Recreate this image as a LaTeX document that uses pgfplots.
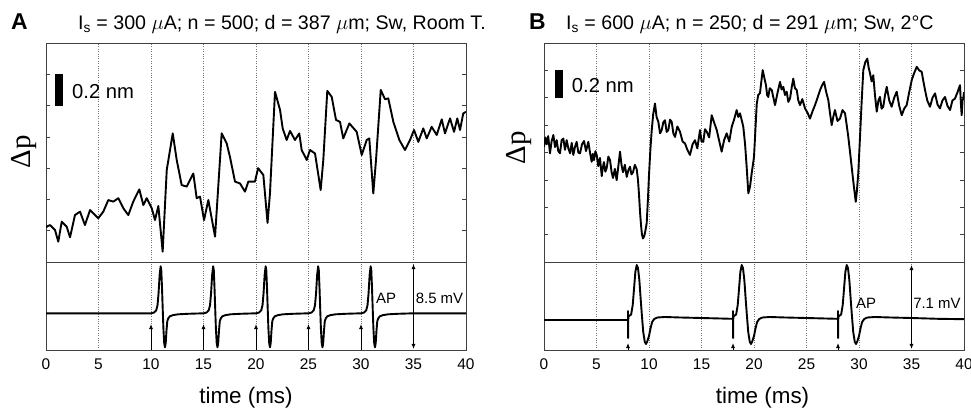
\documentclass[border=0pt]{standalone}
\usepackage{fontspec}
\setmainfont{Liberation Sans}
\newfontfamily\timesfont{Liberation Serif}
\usepackage{pgfplots}
\pgfplotsset{compat=1.18}
\usetikzlibrary{arrows.meta}

% one unit of the top axes = one y tick step = 0.2 nm
% bottom axes: AP trace, baseline at 0 (mV-ish units)
\pgfplotsset{
  panel/.style={
    scale only axis, width=420bp, xmin=0, xmax=40,
    axis line style={black!75, line width=0.8bp},
    xmajorgrids, grid style={dotted, black!55, line width=0.7bp},
    xtick style={draw=none},
    ytick style={black!75, line width=0.6bp},
    major tick length=4bp,
    /pgf/number format/assume math mode=true,
  },
  top/.style={panel, height=219bp, xtick={5,10,...,35}, xticklabels={}, yticklabels={}},
  bot/.style={panel, height=88bp, xtick={0,5,...,40}, ytick=\empty,
    xticklabel style={font=\fontsize{15.5}{15}\selectfont, yshift=-5bp}},
  trace/.style={black, line width=1.9bp, line join=round},
}
\tikzset{
  stim/.style={black, line width=0.9bp, -{Latex[length=5bp,width=4bp]}},
  amp/.style={black, line width=0.9bp, {Latex[length=5bp,width=4bp]}-{Latex[length=5bp,width=4bp]}},
}

\begin{document}
\begin{tikzpicture}
\useasboundingbox (0,0) rectangle (971bp,409bp);

% ---------------- panel A ----------------
\begin{axis}[top, at={(46bp,147bp)}, anchor=south west, ymin=0, ymax=7, ytick={1,...,6}]
\addplot[trace] coordinates {
(0.00,1.10) (0.07,1.13) (0.38,1.18) (0.86,1.02) (1.17,0.65) (1.50,1.29) (1.97,1.13)
(2.29,0.79) (2.76,1.50) (3.24,1.61) (3.71,1.18) (4.19,1.66) (4.67,1.50) (4.98,1.40)
(5.46,1.61) (5.93,1.98) (6.41,1.93) (6.89,2.04) (7.36,1.72) (7.84,1.50) (8.31,1.93)
(8.89,2.32) (9.27,1.82) (9.59,2.04) (10.07,1.72) (10.38,1.34) (10.70,1.79) (11.11,0.33)
(11.50,2.94) (12.07,4.11) (12.45,3.26) (12.92,2.46) (13.40,2.41) (14.03,2.83) (14.35,2.04)
(14.67,2.09) (15.05,1.34) (15.46,1.98) (16.10,0.81) (16.73,4.11) (17.21,3.79) (17.52,3.36)
(18.00,2.57) (18.48,2.51) (18.95,2.25) (19.27,2.57) (19.90,2.57) (20.20,3.00) (20.70,2.78)
(21.10,1.25) (21.33,2.19) (21.81,5.44) (22.29,4.86) (22.54,4.27) (22.92,3.90) (23.24,4.19)
(23.71,3.90) (24.12,4.11) (24.35,3.58) (24.83,3.26) (25.14,3.58) (25.62,3.47) (26.16,2.30)
(26.41,3.26) (26.79,5.47) (27.21,5.28) (27.62,4.54) (28.00,4.48) (28.31,3.95) (28.89,4.43)
(29.59,4.16) (30.07,3.42) (30.54,3.90) (30.79,3.95) (31.17,2.19) (31.43,3.26) (31.88,5.50)
(32.29,5.20) (32.60,5.23) (33.08,4.48) (33.65,3.90) (34.19,3.58) (34.67,3.90) (35.05,4.22)
(35.46,3.84) (35.93,4.27) (36.26,3.95) (36.73,4.32) (37.21,4.06) (37.69,4.56) (38.00,4.11)
(38.48,4.59) (38.86,4.16) (39.17,4.59) (39.43,4.22) (39.74,4.75) (40.00,4.80)
};
\fill[black] (axis cs:0.86,5) rectangle (axis cs:1.65,6);
\end{axis}

\begin{axis}[bot, at={(46bp,59bp)}, anchor=south west, ymin=-3.67, ymax=5.13]
\addplot[trace] coordinates {
(0,0) (10,0)
(10.3,0.08) (10.5,0.3) (10.62,0.8) (10.72,2.0) (10.82,3.8) (10.92,4.7) (10.98,4.3) (11.05,2.5)
(11.12,0.3) (11.18,-1.5) (11.26,-3.0) (11.33,-3.4) (11.40,-3.0) (11.47,-1.8) (11.55,-0.8)
(11.65,-0.5) (11.8,-0.3) (12.1,-0.18) (12.6,-0.1) (13.5,-0.05) (15,0)
(15.3,0.08) (15.5,0.3) (15.62,0.8) (15.72,2.0) (15.82,3.8) (15.92,4.7) (15.98,4.3) (16.05,2.5)
(16.12,0.3) (16.18,-1.5) (16.26,-3.0) (16.33,-3.4) (16.40,-3.0) (16.47,-1.8) (16.55,-0.8)
(16.65,-0.5) (16.8,-0.3) (17.1,-0.18) (17.6,-0.1) (18.5,-0.05) (20,0)
(20.3,0.08) (20.5,0.3) (20.62,0.8) (20.72,2.0) (20.82,3.8) (20.92,4.7) (20.98,4.3) (21.05,2.5)
(21.12,0.3) (21.18,-1.5) (21.26,-3.0) (21.33,-3.4) (21.40,-3.0) (21.47,-1.8) (21.55,-0.8)
(21.65,-0.5) (21.8,-0.3) (22.1,-0.18) (22.6,-0.1) (23.5,-0.05) (25,0)
(25.3,0.08) (25.5,0.3) (25.62,0.8) (25.72,2.0) (25.82,3.8) (25.92,4.7) (25.98,4.3) (26.05,2.5)
(26.12,0.3) (26.18,-1.5) (26.26,-3.0) (26.33,-3.4) (26.40,-3.0) (26.47,-1.8) (26.55,-0.8)
(26.65,-0.5) (26.8,-0.3) (27.1,-0.18) (27.6,-0.1) (28.5,-0.05) (30,0)
(30.3,0.08) (30.5,0.3) (30.62,0.8) (30.72,2.0) (30.82,3.8) (30.92,4.7) (30.98,4.3) (31.05,2.5)
(31.12,0.3) (31.18,-1.5) (31.26,-3.0) (31.33,-3.4) (31.40,-3.0) (31.47,-1.8) (31.55,-0.8)
(31.65,-0.5) (31.8,-0.3) (32.1,-0.18) (32.6,-0.1) (33.5,-0.05) (35,0) (40,0)
};
\draw[stim] (axis cs:10,-3.67) -- (axis cs:10,-1.07);
\draw[stim] (axis cs:15,-3.67) -- (axis cs:15,-1.07);
\draw[stim] (axis cs:20,-3.67) -- (axis cs:20,-1.07);
\draw[stim] (axis cs:25,-3.67) -- (axis cs:25,-1.07);
\draw[stim] (axis cs:30,-3.67) -- (axis cs:30,-1.07);
\draw[amp] (axis cs:35,-3.57) -- (axis cs:35,4.93);
\node[anchor=west, inner sep=0, font=\fontsize{15}{15}\selectfont] at (axis cs:31.43,1.53) {AP};
\node[anchor=west, inner sep=0, font=\fontsize{15}{15}\selectfont] at (axis cs:35.2,1.53) {8.5 mV};
\end{axis}

% ---------------- panel B ----------------
\begin{axis}[top, at={(544bp,147bp)}, anchor=south west, ymin=0, ymax=8, ytick={1,...,7}]
\addplot[trace] coordinates {
(0.00,4.21) (0.13,4.55) (0.26,4.30) (0.40,4.60) (0.57,3.97) (0.72,4.40) (0.89,4.64)
(1.05,4.20) (1.21,4.45) (1.36,4.05) (1.52,3.97) (1.68,4.45) (1.84,4.51) (2.00,4.10)
(2.16,4.45) (2.32,4.15) (2.48,3.97) (2.64,4.35) (2.79,3.91) (2.95,4.20) (3.11,4.39)
(3.27,4.00) (3.43,3.97) (3.62,4.30) (3.81,4.42) (4.00,4.05) (4.22,4.39) (4.38,4.00)
(4.54,3.66) (4.65,3.95) (4.76,3.72) (4.90,4.05) (5.02,3.91) (5.17,3.50) (5.33,3.80)
(5.50,3.14) (5.60,3.45) (5.71,3.65) (5.84,3.30) (5.97,3.43) (6.13,3.85) (6.29,3.72)
(6.43,3.30) (6.57,3.07) (6.75,3.40) (6.92,2.99) (7.08,3.50) (7.24,4.03) (7.38,3.55)
(7.52,3.28) (7.70,3.55) (7.88,3.11) (8.03,3.35) (8.19,3.48) (8.33,3.20) (8.48,3.28)
(8.65,3.55) (8.83,3.39) (8.95,3.00) (9.05,2.45) (9.15,1.80) (9.24,1.35) (9.33,1.00)
(9.43,0.86) (9.55,0.95) (9.66,1.15) (9.78,1.42) (9.90,2.30) (10.00,3.18) (10.13,4.10)
(10.26,4.82) (10.40,5.40) (10.57,5.79) (10.72,5.30) (10.89,5.12) (11.05,4.70) (11.21,4.82)
(11.36,5.10) (11.52,5.18) (11.68,4.75) (11.84,4.82) (12.00,5.20) (12.16,5.12) (12.32,4.70)
(12.48,4.57) (12.70,4.95) (12.95,4.76) (13.20,4.40) (13.43,4.33) (13.65,4.10) (13.90,3.91)
(14.15,4.30) (14.38,4.45) (14.60,4.15) (14.86,4.82) (15.00,4.40) (15.17,4.39) (15.33,4.85)
(15.50,4.76) (15.73,4.55) (15.97,5.36) (16.20,5.10) (16.45,4.82) (16.70,4.40) (16.92,4.03)
(17.15,4.45) (17.40,4.70) (17.64,4.40) (17.88,4.94) (18.10,5.20) (18.35,5.55) (18.50,5.30)
(18.67,5.43) (18.82,5.20) (18.98,4.94) (19.15,4.30) (19.30,3.48) (19.46,2.51) (19.62,2.75)
(19.78,3.24) (20.00,3.84) (20.13,4.80) (20.26,5.77) (20.40,6.10) (20.57,6.17) (20.70,6.60)
(20.83,7.01) (21.00,6.70) (21.14,6.46) (21.25,6.10) (21.36,6.03) (21.50,6.35) (21.69,6.28)
(21.85,6.00) (22.00,5.73) (22.25,6.20) (22.48,6.58) (22.63,6.30) (22.79,6.40) (22.95,6.10)
(23.11,6.22) (23.27,5.85) (23.43,5.97) (23.60,6.40) (23.74,6.70) (23.90,6.35) (24.07,6.28)
(24.22,5.90) (24.38,5.73) (24.60,5.95) (24.86,5.61) (25.10,5.45) (25.33,5.24) (25.57,5.50)
(25.81,5.73) (26.05,6.00) (26.29,6.28) (26.48,6.45) (26.67,6.58) (26.88,6.20) (27.08,5.91)
(27.25,5.40) (27.40,5.00) (27.55,5.30) (27.71,5.55) (27.95,5.15) (28.19,5.24) (28.43,5.55)
(28.67,5.43) (28.83,5.00) (28.98,4.57) (29.15,4.00) (29.30,3.48) (29.50,2.80) (29.69,2.20)
(29.80,2.60) (29.93,3.24) (30.10,4.60) (30.26,5.91) (30.41,7.01) (30.60,7.30) (30.79,7.43)
(30.92,7.10) (31.05,6.89) (31.20,6.60) (31.36,6.82) (31.52,6.10) (31.69,5.49) (31.85,5.90)
(32.00,6.03) (32.15,5.60) (32.31,5.67) (32.48,6.10) (32.64,6.40) (32.88,5.90) (33.11,5.67)
(33.35,6.00) (33.59,6.22) (33.83,5.70) (34.07,5.36) (34.30,5.60) (34.54,5.73) (34.78,6.20)
(35.02,6.64) (35.25,6.90) (35.50,7.13) (35.73,7.00) (35.97,6.95) (36.13,6.60) (36.29,6.28)
(36.50,5.90) (36.76,5.67) (37.00,6.00) (37.24,6.16) (37.48,5.75) (37.71,5.61) (37.95,5.90)
(38.19,6.03) (38.43,5.70) (38.67,5.55) (38.90,5.90) (39.14,5.97) (39.38,6.20) (39.62,6.46)
(39.70,5.80) (39.78,5.36) (39.86,5.90) (39.93,5.97) (40.00,6.20)
};
\fill[black] (axis cs:1.05,6) rectangle (axis cs:1.78,7);
\end{axis}

\begin{axis}[bot, at={(544bp,59bp)}, anchor=south west, ymin=-3.0, ymax=5.8]
\addplot[trace] coordinates {
(0,0) (8,0) (8,0.9) (8.01,-1.8) (8.03,0.35) (8.3,0.55) (8.45,1.5) (8.58,3.2) (8.7,4.8)
(8.83,5.5) (8.95,5.2) (9.08,4.0) (9.2,2.2) (9.32,0.5) (9.45,-1.2) (9.6,-2.2) (9.72,-2.4)
(9.85,-2.1) (10.0,-1.6) (10.15,-0.8) (10.3,-0.2) (10.5,0.1) (10.8,0.25) (11.5,0.3)
(13,0.25) (15,0.2) (17.9,0.12) (18,0.1)
(18,0.9) (18.01,-1.8) (18.03,0.35) (18.3,0.55) (18.45,1.5) (18.58,3.2) (18.7,4.8)
(18.83,5.5) (18.95,5.2) (19.08,4.0) (19.2,2.2) (19.32,0.5) (19.45,-1.2) (19.6,-2.2) (19.72,-2.4)
(19.85,-2.1) (20.0,-1.6) (20.15,-0.8) (20.3,-0.2) (20.5,0.1) (20.8,0.25) (21.5,0.3)
(23,0.25) (25,0.2) (27.9,0.12) (28,0.1)
(28,0.9) (28.01,-1.8) (28.03,0.35) (28.3,0.55) (28.45,1.5) (28.58,3.2) (28.7,4.8)
(28.83,5.5) (28.95,5.2) (29.08,4.0) (29.2,2.2) (29.32,0.5) (29.45,-1.2) (29.6,-2.2) (29.72,-2.4)
(29.85,-2.1) (30.0,-1.6) (30.15,-0.8) (30.3,-0.2) (30.5,0.1) (30.8,0.25) (31.5,0.3)
(33,0.25) (35,0.2) (37.5,0.12) (40,0.08)
};
\draw[stim] (axis cs:8,-3.0) -- (axis cs:8,-2.3);
\draw[stim] (axis cs:18,-3.0) -- (axis cs:18,-2.3);
\draw[stim] (axis cs:28,-3.0) -- (axis cs:28,-2.3);
\draw[amp] (axis cs:35,-2.9) -- (axis cs:35,5.5);
\node[anchor=west, inner sep=0, font=\fontsize{15}{15}\selectfont] at (axis cs:29.7,1.7) {AP};
\node[anchor=west, inner sep=0, font=\fontsize{15}{15}\selectfont] at (axis cs:35.15,1.7) {7.1 mV};
\end{axis}

% ---------------- texts ----------------
\node[anchor=base west, inner sep=0, font=\bfseries\fontsize{23}{23}\selectfont] at (11bp,379.7bp) {A};
\node[anchor=base west, inner sep=0, font=\fontsize{19.7}{19}\selectfont] at (78bp,379.7bp)
  {I\textsubscript{s} = 300 $\mu$A; n = 500; d = 387 $\mu$m; Sw, Room T.};
\node[anchor=base west, inner sep=0, font=\bfseries\fontsize{23}{23}\selectfont] at (529bp,379.7bp) {B};
\node[anchor=base west, inner sep=0, font=\fontsize{19.7}{19}\selectfont] at (566bp,379.7bp)
  {I\textsubscript{s} = 600 $\mu$A; n = 250; d = 291 $\mu$m; Sw, 2°C};
\node[anchor=base west, inner sep=0, font=\fontsize{20.3}{20}\selectfont] at (72bp,310bp) {0.2 nm};
\node[anchor=base west, inner sep=0, font=\fontsize{20.3}{20}\selectfont] at (571.7bp,316.3bp) {0.2 nm};
\node[rotate=90, inner sep=0, font=\timesfont\fontsize{29}{29}\selectfont] at (24bp,257bp) {Δp};
\node[rotate=90, inner sep=0, font=\timesfont\fontsize{29}{29}\selectfont] at (519bp,261bp) {Δp};
\node[anchor=base, inner sep=0, font=\fontsize{22.5}{22}\selectfont] at (246bp,5.5bp) {time (ms)};
\node[anchor=base, inner sep=0, font=\fontsize{22.5}{22}\selectfont] at (762.5bp,5.5bp) {time (ms)};
\end{tikzpicture}
\end{document}
